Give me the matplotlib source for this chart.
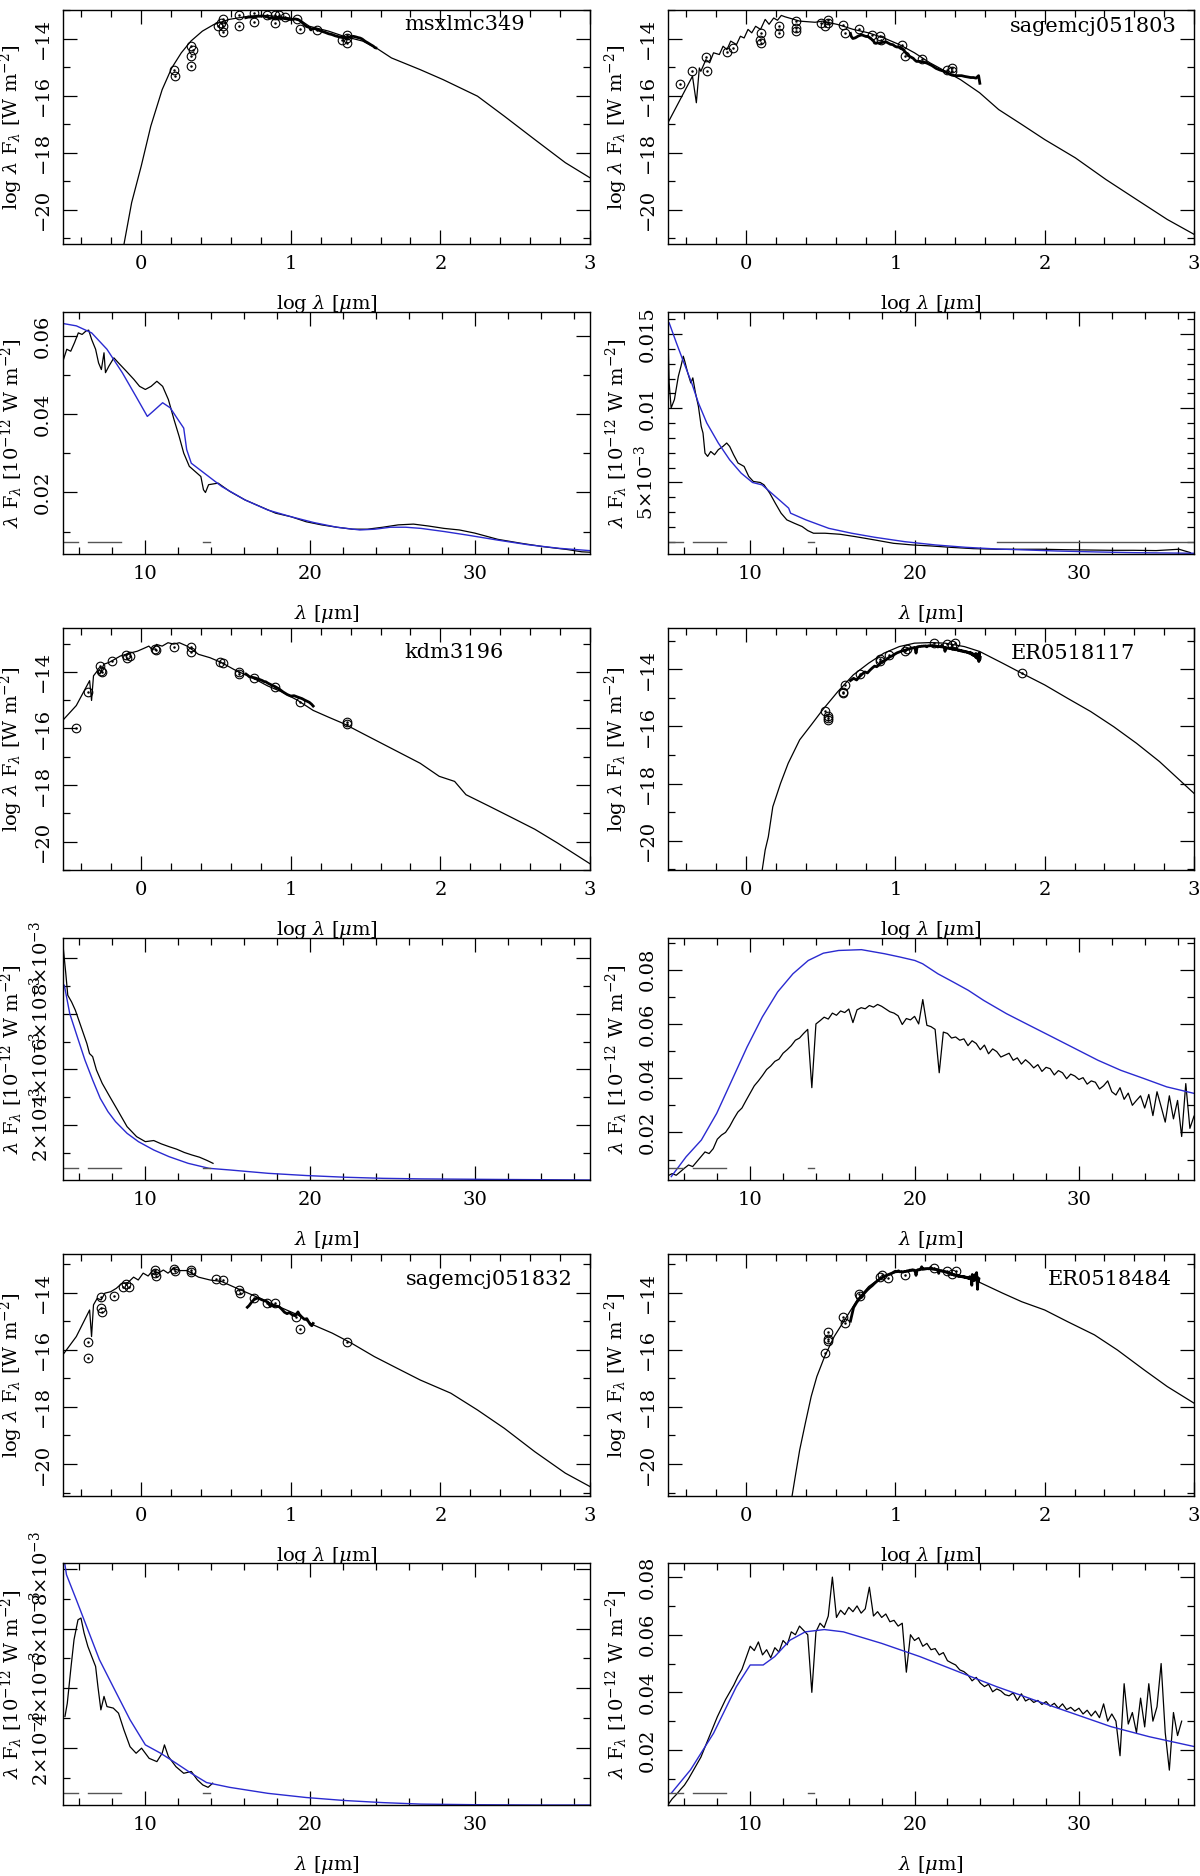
import numpy as np
import matplotlib
matplotlib.use("Agg")
import matplotlib.pyplot as plt
from matplotlib.ticker import MultipleLocator

plt.rcParams['font.family'] = ['DejaVu Serif']
plt.rcParams['mathtext.fontset'] = 'dejavuserif'
plt.rcParams['font.size'] = 14

# ---------------- data ----------------
names = ["msxlmc349", "sagemcj051803", "kdm3196", "ER0518117", "sagemcj051832", "ER0518484"]

# log lambda, log lambda F_lambda of the fitted model SEDs
msx_model = [(-0.115, -21.2), (-0.064, -19.75), (0.0, -18.47), (0.064, -17.07), (0.14, -15.79),
             (0.204, -15.03), (0.268, -14.50), (0.332, -14.09), (0.409, -13.74), (0.485, -13.51),
             (0.587, -13.33), (0.715, -13.22), (0.843, -13.19), (0.996, -13.28), (1.073, -13.39),
             (1.124, -13.57), (1.252, -13.74), (1.354, -13.92), (1.481, -14.09), (1.571, -14.33),
             (1.673, -14.68), (1.865, -15.09), (2.018, -15.44), (2.248, -16.02), (2.427, -16.72),
             (2.631, -17.54), (2.835, -18.35), (3.0, -18.88)]
sage803_model = [(-0.523, -16.95), (-0.359, -15.32), (-0.333, -16.25), (-0.313, -15.03), (-0.303, -15.15),
                 (-0.269, -14.74), (-0.244, -14.85), (-0.218, -14.50), (-0.179, -14.56), (-0.154, -14.27),
                 (-0.128, -14.39), (-0.103, -14.09), (-0.064, -14.21), (-0.038, -13.92), (-0.013, -13.98),
                 (0.013, -13.68), (0.038, -13.80), (0.064, -13.57), (0.097, -13.68), (0.128, -13.33),
                 (0.154, -13.50), (0.185, -13.28), (0.21, -13.36), (0.236, -13.19), (0.262, -13.24),
                 (0.308, -13.31), (0.359, -13.39), (0.462, -13.43), (0.513, -13.39), (0.615, -13.51),
                 (0.718, -13.68), (0.82, -13.80), (0.923, -13.98), (1.026, -14.21), (1.128, -14.50),
                 (1.231, -14.85), (1.333, -15.14), (1.436, -15.44), (1.564, -15.90), (1.692, -16.49),
                 (1.846, -17.01), (2.0, -17.54), (2.205, -18.18), (2.41, -18.94), (2.615, -19.64),
                 (2.821, -20.34), (3.0, -20.86)]
kdm_model = [(-0.524, -15.71), (-0.434, -15.19), (-0.345, -14.31), (-0.332, -15.01), (-0.319, -14.14),
             (-0.294, -13.97), (-0.276, -14.08), (-0.25, -13.73), (-0.217, -13.67), (-0.179, -13.56),
             (-0.14, -13.44), (-0.102, -13.38), (-0.064, -13.32), (-0.026, -13.27), (0.013, -13.18),
             (0.051, -13.09), (0.077, -13.23), (0.102, -13.03), (0.14, -13.09), (0.179, -12.97),
             (0.217, -13.02), (0.255, -12.97), (0.307, -13.09), (0.383, -13.38), (0.46, -13.50),
             (0.536, -13.67), (0.639, -13.97), (0.741, -14.20), (0.843, -14.49), (0.945, -14.72),
             (1.047, -15.01), (1.149, -15.36), (1.252, -15.60), (1.354, -15.83), (1.481, -16.18),
             (1.609, -16.53), (1.737, -16.88), (1.865, -17.23), (1.992, -17.69), (2.095, -17.87),
             (2.171, -18.34), (2.324, -18.74), (2.478, -19.15), (2.631, -19.56), (2.784, -20.05),
             (3.0, -20.78)]
er117_model = [(0.108, -21.02), (0.128, -20.32), (0.149, -19.86), (0.179, -18.81), (0.231, -17.99),
               (0.282, -17.29), (0.359, -16.47), (0.436, -15.95), (0.513, -15.42), (0.615, -14.78),
               (0.718, -14.20), (0.821, -13.79), (0.923, -13.44), (1.026, -13.21), (1.128, -13.09),
               (1.231, -13.07), (1.333, -13.09), (1.462, -13.21), (1.564, -13.38), (1.718, -13.79),
               (1.846, -14.14), (2.0, -14.55), (2.154, -15.02), (2.308, -15.48), (2.462, -16.01),
               (2.615, -16.59), (2.769, -17.23), (3.0, -18.34)]
sage832_model = [(-0.524, -16.18), (-0.434, -15.54), (-0.345, -14.61), (-0.332, -15.54), (-0.319, -14.43),
                 (-0.294, -14.20), (-0.268, -14.26), (-0.243, -14.02), (-0.204, -13.97), (-0.166, -13.85),
                 (-0.128, -13.67), (-0.089, -13.65), (-0.051, -13.46), (-0.02, -13.56), (0.013, -13.32),
                 (0.046, -13.42), (0.077, -13.23), (0.115, -13.32), (0.148, -13.21), (0.179, -13.32),
                 (0.217, -13.15), (0.255, -13.23), (0.307, -13.23), (0.383, -13.46), (0.46, -13.56),
                 (0.536, -13.61), (0.639, -13.85), (0.741, -14.08), (0.843, -14.32), (0.945, -14.55),
                 (1.047, -14.78), (1.149, -15.13), (1.277, -15.42), (1.405, -15.77), (1.558, -16.24),
                 (1.711, -16.65), (1.865, -17.06), (2.069, -17.52), (2.248, -18.11), (2.427, -18.75),
                 (2.631, -19.57), (2.835, -20.32), (3.0, -20.79)]
er484_model = [(0.308, -21.12), (0.333, -20.32), (0.359, -19.51), (0.397, -18.57), (0.436, -17.64),
               (0.474, -16.94), (0.526, -16.24), (0.59, -15.54), (0.667, -14.90), (0.744, -14.26),
               (0.821, -13.79), (0.897, -13.50), (1.0, -13.30), (1.128, -13.23), (1.231, -13.18),
               (1.333, -13.26), (1.462, -13.44), (1.551, -13.61), (1.718, -14.02), (1.846, -14.32),
               (2.0, -14.61), (2.154, -15.02), (2.333, -15.48), (2.487, -16.01), (2.667, -16.71),
               (2.821, -17.29), (3.0, -17.87)]

# photometry (log lambda, log lambda F_lambda)
msx_phot = [(0.222, -15.09), (0.227, -15.30), (0.332, -14.27), (0.345, -14.39), (0.332, -14.62),
            (0.332, -14.95), (0.511, -13.55), (0.531, -13.45), (0.549, -13.33), (0.549, -13.57),
            (0.549, -13.78), (0.651, -13.19), (0.651, -13.57), (0.754, -13.10), (0.754, -13.43),
            (0.843, -13.16), (0.894, -13.16), (0.894, -13.47), (0.92, -13.19), (0.958, -13.24),
            (1.042, -13.31), (1.06, -13.66), (1.175, -13.71), (1.341, -14.04), (1.374, -13.86),
            (1.374, -13.98), (1.374, -14.15)]
sage803_phot = [(-0.441, -15.58), (-0.364, -15.14), (-0.269, -14.64), (-0.262, -15.14), (-0.128, -14.48),
                (-0.09, -14.33), (0.097, -13.80), (0.09, -14.06), (0.097, -14.15), (0.218, -13.55),
                (0.218, -13.82), (0.333, -13.39), (0.333, -13.63), (0.333, -13.74), (0.5, -13.47),
                (0.526, -13.57), (0.551, -13.36), (0.551, -13.45), (0.649, -13.54), (0.662, -13.80),
                (0.759, -13.66), (0.846, -13.86), (0.897, -13.92), (0.905, -14.04), (1.044, -14.21),
                (1.064, -14.62), (1.179, -14.71), (1.346, -15.09), (1.379, -15.03), (1.379, -15.14)]
kdm_phot = [(-0.434, -16.0), (-0.358, -14.70), (-0.276, -13.79), (-0.268, -13.97), (-0.26, -14.02),
            (-0.192, -13.62), (-0.102, -13.42), (-0.095, -13.50), (-0.077, -13.44), (0.089, -13.18),
            (0.097, -13.23), (0.217, -13.11), (0.332, -13.13), (0.332, -13.30), (0.524, -13.65),
            (0.549, -13.70), (0.651, -14.0), (0.656, -14.08), (0.754, -14.23), (0.894, -14.55),
            (1.06, -15.07), (1.374, -15.77), (1.374, -15.84)]
er117_phot = [(0.526, -15.46), (0.551, -15.63), (0.551, -15.72), (0.551, -15.77), (0.646, -14.84),
              (0.646, -14.78), (0.662, -14.55), (0.764, -14.16), (0.897, -13.65), (0.897, -13.73),
              (0.954, -13.50), (1.064, -13.38), (1.077, -13.30), (1.256, -13.09), (1.346, -13.12),
              (1.379, -13.16), (1.397, -13.09), (1.846, -14.12)]
sage832_phot = [(-0.358, -15.74), (-0.358, -16.30), (-0.268, -14.14), (-0.268, -14.55), (-0.26, -14.67),
                (-0.184, -14.11), (-0.12, -13.79), (-0.102, -13.70), (-0.082, -13.79), (0.089, -13.21),
                (0.089, -13.32), (0.097, -13.42), (0.217, -13.18), (0.225, -13.23), (0.332, -13.21),
                (0.332, -13.27), (0.498, -13.53), (0.549, -13.56), (0.651, -13.91), (0.659, -14.02),
                (0.754, -14.20), (0.838, -14.35), (0.894, -14.37), (1.034, -14.84), (1.06, -15.28),
                (1.374, -15.72)]
er484_phot = [(0.526, -16.10), (0.546, -15.37), (0.551, -15.63), (0.551, -15.68), (0.646, -14.84),
              (0.662, -15.07), (0.756, -14.05), (0.761, -14.12), (0.897, -13.44), (0.91, -13.38),
              (0.949, -13.50), (1.064, -13.38), (1.256, -13.15), (1.346, -13.26), (1.379, -13.36),
              (1.405, -13.26)]

# IRS spectra (lambda [um], lambda F_lambda [1e-12 W m-2])
msx_spec = [(5.0, 0.0537), (5.23, 0.0567), (5.47, 0.0562), (5.70, 0.0584), (5.93, 0.0609), (6.16, 0.0605),
            (6.40, 0.0614), (6.56, 0.0616), (6.74, 0.0592), (6.98, 0.0567), (7.16, 0.0532), (7.33, 0.0515),
            (7.49, 0.0558), (7.58, 0.0507), (7.79, 0.0524), (8.09, 0.0545), (8.37, 0.0532), (8.84, 0.0511),
            (9.30, 0.0490), (9.65, 0.0472), (10.0, 0.0464), (10.35, 0.0472), (10.70, 0.0485), (11.05, 0.0472),
            (11.40, 0.0438), (11.74, 0.0387), (12.05, 0.0344), (12.33, 0.0301), (12.67, 0.0267),
            (13.02, 0.0254), (13.37, 0.0241), (13.53, 0.0207), (13.65, 0.0200), (13.84, 0.0220),
            (14.42, 0.0224), (15.12, 0.0203), (16.05, 0.0181), (16.98, 0.0164), (17.91, 0.0147),
            (18.84, 0.0138), (19.77, 0.0125), (20.70, 0.0117), (21.63, 0.0111), (22.56, 0.0106),
            (23.49, 0.0106), (24.42, 0.0111), (25.35, 0.0117), (26.28, 0.0119), (27.21, 0.0114),
            (28.14, 0.0108), (29.07, 0.0104), (30.0, 0.0096), (31.4, 0.0080), (32.8, 0.0070),
            (34.2, 0.0061), (35.6, 0.0054), (36.5, 0.0048), (37.0, 0.0047)]
sage803_spec = [(5.0, 0.01509), (5.07, 0.01171), (5.19, 0.01002), (5.39, 0.01059), (5.63, 0.01216),
                (5.79, 0.01284), (5.93, 0.01351), (6.02, 0.01317), (6.20, 0.01239), (6.39, 0.01171),
                (6.51, 0.01205), (6.67, 0.01104), (6.85, 0.01013), (7.02, 0.00878), (7.13, 0.00833),
                (7.25, 0.00698), (7.41, 0.00676), (7.60, 0.00709), (7.83, 0.00687), (8.06, 0.00721),
                (8.34, 0.00743), (8.57, 0.00766), (8.75, 0.00743), (8.99, 0.00687), (9.26, 0.00631),
                (9.63, 0.00608), (9.91, 0.00541), (10.19, 0.00507), (10.61, 0.00500), (10.84, 0.00484),
                (11.19, 0.00428), (11.53, 0.00360), (11.88, 0.00293), (12.23, 0.00248), (12.69, 0.00225),
                (13.16, 0.00203), (13.50, 0.00176), (13.85, 0.00158), (14.55, 0.00158), (15.47, 0.00151),
                (16.40, 0.00135), (17.56, 0.00113), (18.72, 0.00090), (19.87, 0.00079), (21.03, 0.00072),
                (22.19, 0.00063), (23.58, 0.00054), (24.97, 0.00050), (26.36, 0.00050), (27.75, 0.00050),
                (29.14, 0.00047), (30.53, 0.00045), (31.92, 0.00043), (33.31, 0.00043), (34.70, 0.00041),
                (36.09, 0.00050), (36.79, 0.00027)]
kdm_spec = [(5.02, 0.00835), (5.17, 0.00745), (5.29, 0.00667), (5.52, 0.00643), (5.75, 0.00613),
            (6.10, 0.00553), (6.45, 0.00493), (6.61, 0.00457), (6.80, 0.00446), (7.03, 0.00398),
            (7.38, 0.00350), (7.84, 0.00302), (8.31, 0.00254), (8.89, 0.00194), (9.47, 0.00158),
            (10.0, 0.00140), (10.51, 0.00144), (10.97, 0.00132), (11.44, 0.00122), (11.90, 0.00113),
            (12.37, 0.00101), (12.83, 0.00092), (13.29, 0.00084), (13.76, 0.00072), (14.11, 0.00062)]
er117_wave = [5.0, 5.25, 5.5, 5.75, 6.0, 6.25, 6.5, 6.75, 7.0, 7.25, 7.5, 7.75, 8.0, 8.25, 8.5, 8.75,
              9.0, 9.25, 9.5, 9.75, 10.0, 10.25, 10.5, 10.75, 11.0, 11.25, 11.5, 11.75, 12.0, 12.25, 12.5, 12.75,
              13.0, 13.25, 13.5, 13.75, 14.0, 14.25, 14.5, 14.75, 15.0, 15.25, 15.5, 15.75, 16.0, 16.25, 16.5, 16.75,
              17.0, 17.25, 17.5, 17.75, 18.0, 18.25, 18.5, 18.75, 19.0, 19.25, 19.5, 19.75, 20.0, 20.25, 20.5, 20.75,
              21.0, 21.25, 21.5, 21.75, 22.0, 22.25, 22.5, 22.75, 23.0, 23.25, 23.5, 23.75, 24.0, 24.25, 24.5, 24.75,
              25.0, 25.25, 25.5, 25.75, 26.0, 26.25, 26.5, 26.75, 27.0, 27.25, 27.5, 27.75, 28.0, 28.25, 28.5, 28.75,
              29.0, 29.25, 29.5, 29.75, 30.0, 30.25, 30.5, 30.75, 31.0, 31.25, 31.5, 31.75, 32.0, 32.25, 32.5, 32.75,
              33.0, 33.25, 33.5, 33.75, 34.0, 34.25, 34.5, 34.75, 35.0, 35.25, 35.5, 35.75, 36.0, 36.25, 36.5, 36.75,
              37.0]
er117_flux = [.0040, .0048, .0042, .0055, .0068, .0080, .0074, .0092, .0110, .0128, .0122, .0140,
              .0175, .0190, .0200, .0222, .0250, .0275, .0290, .0318, .0345, .0372, .0390, .0410,
              .0432, .0445, .0462, .0470, .0492, .0505, .0520, .0540, .0548, .0565, .0580, .0365,
              .0600, .0612, .0625, .0618, .0640, .0632, .0648, .0642, .0655, .0605, .0652, .0660,
              .0656, .0668, .0662, .0672, .0665, .0655, .0645, .0640, .0630, .0598, .0620, .0615,
              .0628, .0600, .0690, .0595, .0590, .0580, .0420, .0570, .0565, .0548, .0552, .0540,
              .0545, .0520, .0538, .0528, .0505, .0522, .0490, .0508, .0498, .0478, .0485, .0492,
              .0466, .0475, .0452, .0468, .0455, .0438, .0450, .0425, .0440, .0435, .0412, .0428,
              .0420, .0398, .0415, .0408, .0395, .0402, .0378, .0390, .0385, .0360, .0372, .0390,
              .0350, .0338, .0365, .0322, .0345, .0300, .0318, .0335, .0290, .0340, .0262, .0350,
              .0295, .0238, .0335, .0250, .0318, .0185, .0380, .0215, .0260]
sage832_spec = [(5.12, 0.00306), (5.26, 0.00350), (5.49, 0.00473), (5.67, 0.00563), (5.91, 0.00629),
                (6.09, 0.00635), (6.28, 0.00585), (6.51, 0.00540), (6.74, 0.00507), (6.98, 0.00473),
                (7.12, 0.00406), (7.30, 0.00328), (7.49, 0.00373), (7.67, 0.00339), (8.05, 0.00334),
                (8.37, 0.00317), (8.70, 0.00261), (9.07, 0.00205), (9.44, 0.00183), (9.77, 0.00200),
                (10.23, 0.00166), (10.70, 0.00155), (11.02, 0.00183), (11.16, 0.00211), (11.40, 0.00172),
                (11.86, 0.00138), (12.33, 0.00116), (12.79, 0.00122), (13.16, 0.00094), (13.49, 0.00077),
                (13.81, 0.00069), (14.09, 0.00083)]
er484_wave = er117_wave[:126]
er484_flux = [.0010, .0030, .0045, .0062, .0078, .0100, .0125, .0150, .0175, .0210, .0245, .0280,
              .0315, .0345, .0375, .0400, .0425, .0455, .0480, .0520, .0560, .0545, .0575, .0530,
              .0548, .0520, .0555, .0540, .0580, .0565, .0610, .0600, .0630, .0615, .0600, .0400,
              .0610, .0640, .0625, .0665, .0800, .0660, .0685, .0670, .0695, .0680, .0700, .0675,
              .0690, .0765, .0665, .0680, .0660, .0672, .0645, .0650, .0630, .0640, .0470, .0600,
              .0580, .0590, .0560, .0570, .0548, .0552, .0530, .0538, .0510, .0502, .0495, .0478,
              .0472, .0460, .0440, .0452, .0432, .0420, .0428, .0402, .0412, .0405, .0392, .0388,
              .0398, .0372, .0395, .0370, .0378, .0365, .0372, .0358, .0368, .0352, .0362, .0345,
              .0360, .0340, .0348, .0335, .0345, .0325, .0338, .0318, .0335, .0312, .0360, .0300,
              .0325, .0300, .0180, .0430, .0290, .0330, .0260, .0380, .0280, .0430, .0300, .0350,
              .0500, .0260, .0130, .0330, .0250, .0300]

# blue model curves in the linear panels
msx_fit = [(5.0, 0.0633), (5.81, 0.0627), (6.74, 0.0609), (7.67, 0.0567), (8.60, 0.0507), (9.42, 0.0447),
           (10.12, 0.0395), (10.47, 0.0408), (11.05, 0.0430), (11.51, 0.0417), (11.98, 0.0387),
           (12.33, 0.0365), (12.51, 0.0310), (12.79, 0.0275), (13.72, 0.0245), (14.65, 0.0215),
           (16.05, 0.0181), (17.44, 0.0155), (18.84, 0.0138), (20.23, 0.0123), (21.63, 0.0111),
           (23.02, 0.0104), (23.95, 0.0106), (24.88, 0.0111), (25.81, 0.0111), (26.74, 0.0108),
           (28.14, 0.0100), (29.53, 0.0091), (31.4, 0.0078), (33.26, 0.0066), (35.12, 0.0057), (37.0, 0.0051)]
sage803_fit = [(5.07, 0.01576), (5.51, 0.01441), (5.97, 0.01306), (6.44, 0.01171), (6.85, 0.01036),
               (7.36, 0.00901), (8.06, 0.00766), (8.75, 0.00653), (9.45, 0.00563), (10.14, 0.00500),
               (10.72, 0.00484), (11.30, 0.00428), (11.88, 0.00372), (12.34, 0.00327), (12.46, 0.00293),
               (13.39, 0.00248), (14.78, 0.00191), (16.17, 0.00158), (17.56, 0.00131), (19.41, 0.00101),
               (21.27, 0.00079), (23.12, 0.00063), (24.97, 0.00052), (26.83, 0.00045), (28.68, 0.00038),
               (31.0, 0.00032), (33.31, 0.00027), (37.0, 0.00023)]
kdm_fit = [(5.08, 0.00703), (5.41, 0.00601), (5.87, 0.00517), (6.33, 0.00434), (6.80, 0.00362),
           (7.26, 0.00296), (7.73, 0.00248), (8.19, 0.00212), (8.89, 0.00170), (9.58, 0.00140),
           (10.51, 0.00110), (11.44, 0.00086), (12.60, 0.00062), (13.87, 0.00044), (15.15, 0.00038),
           (17.47, 0.00026), (19.79, 0.00018), (22.11, 0.00012), (24.43, 0.00008), (26.75, 0.00006),
           (29.07, 0.00005), (31.39, 0.00004), (37.0, 0.00002)]
er117_fit = [(5.2, 0.0037), (6.1, 0.0110), (7.03, 0.0172), (7.96, 0.0270), (8.89, 0.0393), (9.81, 0.0515),
             (10.74, 0.0626), (11.67, 0.0718), (12.60, 0.0785), (13.53, 0.0834), (14.45, 0.0861),
             (15.38, 0.0871), (16.77, 0.0874), (18.17, 0.0859), (19.10, 0.0847), (20.02, 0.0834),
             (20.49, 0.0822), (21.42, 0.0785), (22.34, 0.0755), (23.27, 0.0724), (24.20, 0.0687),
             (25.59, 0.0638), (26.98, 0.0595), (28.38, 0.0552), (29.77, 0.0509), (31.16, 0.0466),
             (32.55, 0.0429), (33.94, 0.0399), (35.34, 0.0368), (37.0, 0.0344)]
sage832_fit = [(5.1, 0.00820), (5.21, 0.00780), (5.81, 0.00696), (6.51, 0.00596), (7.21, 0.00496),
               (8.14, 0.00395), (9.07, 0.00295), (10.0, 0.00211), (10.93, 0.00183), (11.86, 0.00150),
               (12.79, 0.00116), (13.72, 0.00085), (15.12, 0.00069), (17.44, 0.00049), (19.77, 0.00035),
               (22.09, 0.00025), (24.42, 0.00018), (26.74, 0.00013), (30.0, 0.00011), (33.72, 0.00010),
               (37.0, 0.00010)]
er484_fit = [(5.2, 0.0050), (6.37, 0.0131), (7.77, 0.0258), (9.16, 0.0420), (10.0, 0.0495), (10.79, 0.0495),
             (11.49, 0.0524), (12.42, 0.0581), (13.35, 0.0610), (14.51, 0.0618), (15.67, 0.0610),
             (18.0, 0.0570), (20.33, 0.0524), (22.65, 0.0472), (24.98, 0.0420), (27.30, 0.0373),
             (29.63, 0.0327), (31.95, 0.0281), (34.28, 0.0246), (37.0, 0.0212)]

# grey bars near the bottom of the spectrum panels (lambda ranges and level)
bar_ranges = [(5.0, 5.9), (6.5, 8.5), (13.5, 13.9)]
bar_levels = [0.0072, 0.0010, 0.00045, 0.0069, 0.00049, 0.0050]
extra_bar_803 = (25.0, 37.0)

# ---------------- layout (pixels in a 1200x1876 canvas) ----------------
W, H = 1200, 1876
COLS = [(63, 590), (668, 1194)]
ROWS = [(10, 244), (312, 554), (628, 870), (938, 1180), (1254, 1496), (1563, 1805)]

fig = plt.figure(figsize=(W / 100, H / 100), dpi=100)


def place(col, row):
    x0, x1 = COLS[col]
    top, bot = ROWS[row]
    ax = fig.add_axes([x0 / W, 1 - bot / H, (x1 - x0) / W, (bot - top) / H])
    ax.tick_params(which='both', direction='in', top=True, right=True, labelsize=14)
    ax.tick_params(which='major', length=10, width=0.9, pad=8)
    ax.tick_params(which='minor', length=5, width=0.9)
    ax.tick_params(axis='y', labelrotation=90)
    for s in ax.spines.values():
        s.set_linewidth(1.0)
    ax.xaxis.set_label_coords(0.5, -49 / (bot - top))
    ax.yaxis.set_label_coords(-38 / (x1 - x0), 0.5)
    return ax


def sed_panel(col, row, model, spec_w, spec_f, phot, ylim, name, name_x, name_y):
    ax = place(col, row)
    m = np.array(model)
    p = np.array(phot)
    ax.plot(m[:, 0], m[:, 1], color='black', lw=0.9)
    ax.plot(np.log10(spec_w), np.log10(np.array(spec_f) * 1e-12), color='black', lw=2.0)
    ax.plot(p[:, 0], p[:, 1], 'o', ms=6.2, mfc='none', mec='black', mew=0.8)
    ax.plot(p[:, 0], p[:, 1], '.', ms=1.6, color='black')
    ax.set_xlim(np.log10(0.3), 3)
    ax.set_ylim(*ylim)
    ax.set_xticks([0, 1, 2, 3])
    ax.xaxis.set_minor_locator(MultipleLocator(0.2))
    ax.set_yticks([-20, -18, -16, -14])
    ax.set_yticklabels(['\u221220', '\u221218', '\u221216', '\u221214'], va='center')
    ax.yaxis.set_minor_locator(MultipleLocator(1))
    ax.set_xlabel(r'log $\lambda$ [$\mu$m]')
    ax.set_ylabel(r'log $\lambda$ F$_\lambda$ [W m$^{-2}$]')
    ax.text(name_x, name_y, name, fontsize=15, va='center', ha='left')
    return ax


def spec_panel(col, row, spec_w, spec_f, fit, ylim, yticks, ylabels, yminor, level):
    ax = place(col, row)
    f = np.array(fit)
    ax.plot(spec_w, spec_f, color='black', lw=0.9)
    ax.plot(f[:, 0], f[:, 1], color='#2a2ad0', lw=1.0)
    for x0, x1 in bar_ranges:
        ax.plot([x0, x1], [level, level], color='#555555', lw=1.0)
    ax.set_xlim(5, 37)
    ax.set_ylim(*ylim)
    ax.set_xticks([10, 20, 30])
    ax.xaxis.set_minor_locator(MultipleLocator(2))
    ax.set_yticks(yticks)
    ax.set_yticklabels(ylabels, va='center')
    ax.yaxis.set_minor_locator(MultipleLocator(yminor))
    ax.set_xlabel(r'$\lambda$ [$\mu$m]')
    ax.set_ylabel(r'$\lambda$ F$_\lambda$ [10$^{-12}$ W m$^{-2}$]')
    return ax


def unzip(pairs):
    a = np.array(pairs)
    return a[:, 0], a[:, 1]


msx_w, msx_f = unzip(msx_spec)
s803_w, s803_f = unzip(sage803_spec)
kdm_w, kdm_f = unzip(kdm_spec)
s832_w, s832_f = unzip(sage832_spec)

lab_e3 = [r'2$\times$10$^{-3}$', r'4$\times$10$^{-3}$', r'6$\times$10$^{-3}$', r'8$\times$10$^{-3}$']
lab_02 = ['0.02', '0.04', '0.06', '0.08']

# row 1
sed_panel(0, 0, msx_model, msx_w, msx_f, msx_phot, (-21.2, -13.0), names[0], 1.76, -13.51)
sed_panel(1, 0, sage803_model, s803_w, s803_f, sage803_phot, (-21.2, -13.0), names[1], 1.77, -13.59)
# row 2
spec_panel(0, 1, msx_w, msx_f, msx_fit, (0.00424, 0.06625), [0.02, 0.04, 0.06], lab_02[:3], 0.01, bar_levels[0])
ax = spec_panel(1, 1, s803_w, s803_f, sage803_fit, (0.00018, 0.01649), [0.005, 0.01, 0.015],
                [r'5$\times$10$^{-3}$', '0.01', '0.015'], 0.001, bar_levels[1])
ax.plot(list(extra_bar_803), [bar_levels[1]] * 2, color='#555555', lw=1.0)
# row 3
sed_panel(0, 2, kdm_model, kdm_w, kdm_f, kdm_phot, (-21.0, -12.45), names[2], 1.76, -13.32)
sed_panel(1, 2, er117_model, er117_wave, er117_flux, er117_phot, (-21.02, -12.56), names[3], 1.77, -13.44)
# row 4
spec_panel(0, 3, kdm_w, kdm_f, kdm_fit, (0.00002, 0.00873), [0.002, 0.004, 0.006, 0.008], lab_e3, 0.001,
           bar_levels[2])
spec_panel(1, 3, er117_wave, er117_flux, er117_fit, (0.00245, 0.0917), [0.02, 0.04, 0.06, 0.08], lab_02, 0.01,
           bar_levels[3])
# row 5
sed_panel(0, 4, sage832_model, s832_w, s832_f, sage832_phot, (-21.12, -12.65), names[4], 1.77, -13.53)
sed_panel(1, 4, er484_model, er484_wave, er484_flux, er484_phot, (-21.12, -12.65), names[5], 2.02, -13.53)
# row 6
spec_panel(0, 5, s832_w, s832_f, sage832_fit, (0.0001, 0.00819), [0.002, 0.004, 0.006, 0.008], lab_e3, 0.001,
           bar_levels[4])
spec_panel(1, 5, er484_wave, er484_flux, er484_fit, (0.0009, 0.0849), [0.02, 0.04, 0.06, 0.08], lab_02, 0.01,
           bar_levels[5])

fig.savefig('out.png', dpi=100)
